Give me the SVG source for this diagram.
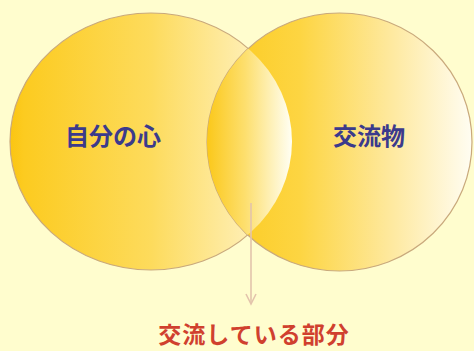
<svg xmlns="http://www.w3.org/2000/svg" width="474" height="351" viewBox="0 0 474 351">
<style>
.circ{stroke:#C9A97C;stroke-width:1.2}
.lbl{font-family:"Noto Sans CJK JP","Noto Sans",sans-serif;font-weight:bold;font-size:24px;text-anchor:middle}
.blue{fill:#3B3A8C}
.red{fill:#D0402E;letter-spacing:1px;font-size:23px}
.conn{stroke:#E3C4AC;stroke-width:1.6;fill:none}
</style>
<defs>
<linearGradient id="gL" gradientUnits="userSpaceOnUse" x1="10" y1="0" x2="292" y2="0">
<stop offset="0" stop-color="#FBC512"/>
<stop offset="0.05" stop-color="#FCCB20"/>
<stop offset="0.5" stop-color="#FDDB5C"/>
<stop offset="1" stop-color="#FFF7DA"/>
</linearGradient>
<linearGradient id="gR" gradientUnits="userSpaceOnUse" x1="207" y1="0" x2="472" y2="0">
<stop offset="0" stop-color="#FBC91A"/>
<stop offset="0.35" stop-color="#FDD542"/>
<stop offset="0.7" stop-color="#FEE9A0"/>
<stop offset="1" stop-color="#FFFDF2"/>
</linearGradient>
<linearGradient id="gM" gradientUnits="userSpaceOnUse" x1="207" y1="0" x2="292" y2="0">
<stop offset="0" stop-color="#FBC81A"/>
<stop offset="0.45" stop-color="#FDDF6E"/>
<stop offset="1" stop-color="#FFFFF4"/>
</linearGradient>
<clipPath id="clipL">
<ellipse cx="151" cy="141.5" rx="141" ry="128.5"/>
</clipPath>
<marker id="arr" markerWidth="14" markerHeight="12" refX="12" refY="6" orient="auto" markerUnits="userSpaceOnUse" viewBox="0 0 14 12">
<path d="M2,1 L12,6 L2,11" fill="none" stroke="#E3C4AC" stroke-width="1.6"/>
</marker>
</defs>
<rect width="474" height="351" fill="#FFFDCE"/>
<g id="node-self">
<ellipse class="circ" cx="151" cy="141.5" rx="141" ry="128.5" fill="url(#gL)"/>
<text class="lbl blue" x="113" y="145">自分の心</text>
</g>
<g id="node-exchange">
<ellipse class="circ" cx="339.5" cy="142" rx="132.5" ry="129" fill="url(#gR)"/>
<text class="lbl blue" x="369" y="145">交流物</text>
</g>
<g id="node-overlap">
<ellipse cx="339.5" cy="142" rx="132.5" ry="129" fill="url(#gM)" clip-path="url(#clipL)"/>
</g>
<g id="connectors">
<line class="conn" x1="251" y1="203" x2="251" y2="304" marker-end="url(#arr)"/>
</g>
<g id="label-overlap">
<text class="lbl red" x="254" y="343">交流している部分</text>
</g>
</svg>
